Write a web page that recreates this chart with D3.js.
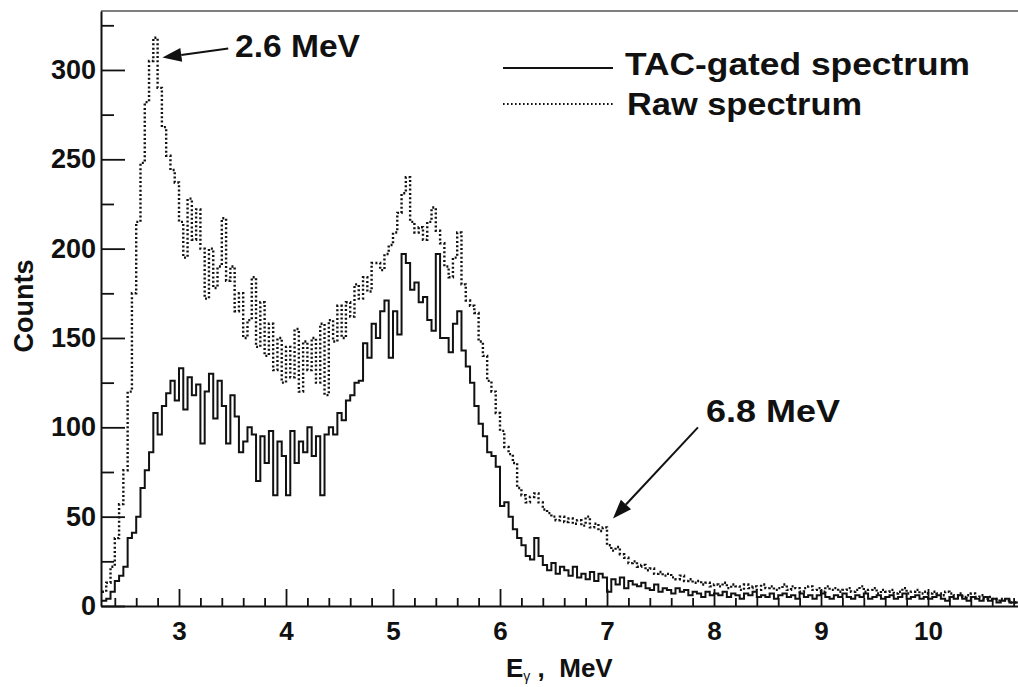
<!DOCTYPE html>
<html>
<head>
<meta charset="utf-8">
<script src="https://cdn.jsdelivr.net/npm/d3@7"></script>
<style>
  html, body { margin: 0; padding: 0; background: #fff; }
  svg text { font-family: "Liberation Sans", Arial, Helvetica, sans-serif; font-weight: bold; fill: #111; }
</style>
</head>
<body>
<svg id="chart" width="1018" height="687"></svg>
<script>
// Histogram binning (MeV): first bin lower edge and channel width
const binStart = 2.28;
const binWidth = 0.04;

// TAC-gated spectrum, counts per bin
const tacCounts = [
  3, 4, 8, 14, 17,        22, 38, 41, 50, 66,
  76, 86, 108, 96, 112,   119, 126, 115, 133, 110,
  128, 118, 124, 91, 120, 130, 105, 126, 112, 91,
  118, 106, 86, 92, 100,  96, 70, 95, 80, 98,
  62, 92, 84, 62, 98,     80, 92, 86, 100, 84,
  95, 62, 96, 100, 96,    108, 104, 115, 118, 125,
  126, 147, 139, 158, 150, 165, 171, 139, 165, 152,
  197, 192, 177, 181, 170, 173, 160, 154, 197, 150,
  150, 142, 158, 165, 143, 134, 125, 112, 102, 95,
  86, 84, 78, 56, 58,     50, 43, 38, 34, 28,
  26, 38, 28, 23, 20,     24, 18, 22, 20, 17,
  22, 16, 18, 15, 19,     14, 18, 16, 8, 15,
  12, 16, 10, 14, 12,     11, 13, 10, 9, 12,
  8, 10, 9, 7, 10,        8, 9, 6, 8, 7,
  5, 8, 6, 7,
  6, 8, 5, 7, 6, 4, 7, 6, 8, 5,
  6, 5, 7, 4, 6, 7, 5, 6, 4, 7,
  5, 6, 4, 6, 7, 5, 4, 6, 5, 7,
  5, 4, 6, 5, 7, 4, 5, 6, 4, 5,
  6, 4, 5, 7, 4, 5, 6, 4, 5, 4,
  5, 6, 4, 3, 5, 4, 6, 4, 3, 5,
  4, 3, 5, 3, 4, 2, 3, 4, 2, 2
];

// Raw spectrum, counts per bin
const rawCounts = [
  8, 13, 22, 38, 57,      76, 120, 175, 215, 248,
  282, 305, 318, 290, 268, 252, 244, 237, 215, 195,
  228, 205, 222, 200, 172, 200, 178, 190, 217, 182,
  190, 165, 175, 150, 160, 184, 145, 170, 140, 158,
  132, 150, 125, 145, 128, 155, 120, 148, 132, 150,
  125, 158, 118, 160, 148, 168, 150, 170, 162, 180,
  172, 184, 176, 192, 192, 188, 197, 202, 209, 220,
  231, 240, 215, 209, 212, 205, 215, 223, 210, 203,
  190, 184, 195, 209, 180, 171, 168, 164, 148, 140,
  126, 120, 108, 98, 89,  85, 80, 66, 62, 58,
  61, 63, 58, 54, 52,     50, 48, 50, 47, 49,
  46, 48, 45, 50, 44,     46, 42, 44, 34, 31,
  33, 29, 27, 24, 25,     22, 23, 20, 21, 18,
  19, 17, 18, 16, 15,     17, 14, 15, 13, 14,
  12, 13, 11, 12,
  11, 13, 10, 12, 11, 9, 12, 10, 11, 9,
  12, 10, 11, 9, 10, 12, 9, 11, 10, 8,
  10, 11, 9, 10, 8, 11, 9, 10, 8, 9,
  10, 8, 9, 11, 8, 9, 10, 7, 9, 8,
  9, 7, 8, 10, 7, 8, 9, 7, 8, 7,
  8, 7, 6, 8, 7, 6, 7, 5, 6, 7,
  5, 6, 4, 5, 4, 3, 4, 3, 2, 2
];

// Axis ticks
const yMajorTicks = [0, 50, 100, 150, 200, 250, 300];
const yMinorTicks = [25, 75, 125, 175, 225, 275, 325];
const xMajorTicks = [3, 4, 5, 6, 7, 8, 9, 10];
const xMinorTicks = [2.4, 2.6, 2.8, 3.2, 3.4, 3.6, 3.8, 4.2, 4.4, 4.6, 4.8,
  5.2, 5.4, 5.6, 5.8, 6.2, 6.4, 6.6, 6.8, 7.2, 7.4, 7.6, 7.8,
  8.2, 8.4, 8.6, 8.8, 9.2, 9.4, 9.6, 9.8, 10.2, 10.4, 10.6, 10.8];

// Legend entries and peak annotations (arrow tip / tail in data units)
const legendLabels = ["TAC-gated spectrum", "Raw spectrum"];
const peakLabels = ["2.6 MeV", "6.8 MeV"];
const peakTips = [[2.845, 307], [7.056, 49]];
const peakTails = [[3.46, 312], [7.85, 100]];

const svg = d3.select("#chart");
const plotLeft = 101, plotRight = 1018, plotTop = 11, plotBottom = 606;

const x = d3.scaleLinear().domain([2.271, 10.841]).range([plotLeft, plotRight]);
const y = d3.scaleLinear().domain([0, 333]).range([plotBottom, plotTop]);

svg.append("clipPath").attr("id", "plot-clip")
  .append("rect").attr("x", plotLeft).attr("y", plotTop - 2)
  .attr("width", plotRight - plotLeft).attr("height", plotBottom - plotTop + 2);

function histPoints(counts) {
  const pts = counts.map((c, i) => [binStart + i * binWidth, c]);
  pts.push([binStart + counts.length * binWidth, counts[counts.length - 1]]);
  return pts;
}
const stepLine = d3.line()
  .x(d => x(d[0])).y(d => y(d[1]))
  .curve(d3.curveStepAfter);

const plot = svg.append("g").attr("clip-path", "url(#plot-clip)");

// raw spectrum: dotted histogram
plot.append("path")
  .attr("d", stepLine(histPoints(rawCounts)))
  .attr("fill", "none").attr("stroke", "#111")
  .attr("stroke-width", 2.4).attr("stroke-dasharray", "2,2.3");

// TAC-gated spectrum: solid histogram
plot.append("path")
  .attr("d", stepLine(histPoints(tacCounts)))
  .attr("fill", "none").attr("stroke", "#111")
  .attr("stroke-width", 2);

// frame top edge
svg.append("line").attr("x1", plotLeft).attr("x2", plotRight).attr("y1", plotTop).attr("y2", plotTop)
  .attr("stroke", "#555").attr("stroke-width", 1.5);

// y axis
const gy = svg.append("g").attr("transform", `translate(${plotLeft},0)`)
  .call(d3.axisLeft(y).tickValues(yMajorTicks).tickSizeInner(-24).tickSizeOuter(0).tickPadding(5));
gy.append("g").call(d3.axisLeft(y).tickValues(yMinorTicks).tickSize(-13).tickFormat(""))
  .select(".domain").remove();
gy.selectAll(".domain").attr("stroke", "#111").attr("stroke-width", 2);
gy.selectAll(".tick line").attr("stroke", "#111").attr("stroke-width", 1.8);
gy.selectAll(".tick text").attr("font-size", 27).attr("fill", "#111");

// x axis
const gx = svg.append("g").attr("transform", `translate(0,${plotBottom})`)
  .call(d3.axisBottom(x).tickValues(xMajorTicks).tickSizeInner(-17).tickSizeOuter(0).tickPadding(16));
gx.append("g").call(d3.axisBottom(x).tickValues(xMinorTicks).tickSize(-8).tickFormat(""))
  .select(".domain").remove();
gx.selectAll(".domain").attr("stroke", "#111").attr("stroke-width", 2);
gx.selectAll(".tick line").attr("stroke", "#111").attr("stroke-width", 1.8);
gx.selectAll(".tick text").attr("font-size", 26).attr("fill", "#111");

// axis titles
svg.append("text")
  .attr("transform", "translate(33,306) rotate(-90)")
  .attr("text-anchor", "middle").attr("font-size", 27)
  .text("Counts");

const xt = svg.append("text").attr("x", 506).attr("y", 677).attr("font-size", 26);
xt.append("tspan").text("E");
xt.append("tspan").attr("font-size", 14).attr("font-weight", "normal").attr("dy", 4).text("γ");
xt.append("tspan").attr("dy", -4).attr("xml:space", "preserve").text(" ,  MeV");

// legend
const legend = svg.append("g");
legend.append("line").attr("x1", 503).attr("x2", 613).attr("y1", 68).attr("y2", 68)
  .attr("stroke", "#111").attr("stroke-width", 2);
legend.append("line").attr("x1", 503).attr("x2", 613).attr("y1", 104).attr("y2", 104)
  .attr("stroke", "#111").attr("stroke-width", 2).attr("stroke-dasharray", "1.6,2.4");
legend.append("text").attr("x", 625).attr("y", 75).attr("font-size", 31)
  .attr("textLength", 345).attr("lengthAdjust", "spacingAndGlyphs").text(legendLabels[0]);
legend.append("text").attr("x", 627).attr("y", 115).attr("font-size", 31)
  .attr("textLength", 235).attr("lengthAdjust", "spacingAndGlyphs").text(legendLabels[1]);

// peak annotations with arrows
function arrow(tip, tail) {
  const tx = x(tip[0]), ty = y(tip[1]), sx = x(tail[0]), sy = y(tail[1]);
  const ang = Math.atan2(ty - sy, tx - sx);
  const len = 19, hw = 7;
  const bx = tx - len * Math.cos(ang), by = ty - len * Math.sin(ang);
  svg.append("line").attr("x1", sx).attr("y1", sy).attr("x2", bx).attr("y2", by)
    .attr("stroke", "#111").attr("stroke-width", 2);
  const px = -Math.sin(ang) * hw, py = Math.cos(ang) * hw;
  svg.append("path")
    .attr("d", `M${tx},${ty}L${bx + px},${by + py}L${bx - px},${by - py}Z`)
    .attr("fill", "#111");
}
arrow(peakTips[0], peakTails[0]);
arrow(peakTips[1], peakTails[1]);

svg.append("text").attr("x", 235).attr("y", 57).attr("font-size", 32)
  .attr("textLength", 125).attr("lengthAdjust", "spacingAndGlyphs").text(peakLabels[0]);
svg.append("text").attr("x", 706).attr("y", 422).attr("font-size", 32)
  .attr("textLength", 134).attr("lengthAdjust", "spacingAndGlyphs").text(peakLabels[1]);
</script>
</body>
</html>
